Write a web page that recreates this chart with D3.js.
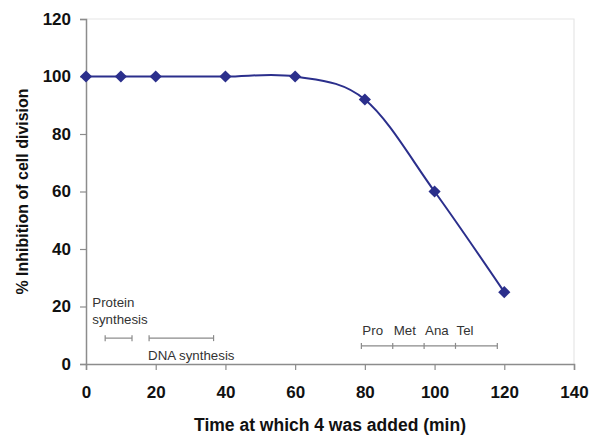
<!DOCTYPE html>
<html>
<head>
<meta charset="utf-8">
<script src="https://cdn.jsdelivr.net/npm/d3@7"></script>
<style>
  body { margin: 0; background: #fff; }
  svg { display: block; font-family: "Liberation Sans", Arial, sans-serif; }
</style>
</head>
<body>
<div id="chart"></div>
<script>
// data
var times = [0, 10, 20, 40, 60, 80, 100, 120];
var inhibition = [100, 100, 100, 100, 100, 92, 60, 25];

var xTicks = [0, 20, 40, 60, 80, 100, 120, 140];
var yTicks = [0, 20, 40, 60, 80, 100, 120];

// annotation ranges (min)
var proteinRange = [5.5, 13.2];
var dnaRange = [18.1, 36.6];
var phaseNames = ["Pro", "Met", "Ana", "Tel"];
var phaseBounds = [79, 88, 97, 106, 118];

var width = 590,
    height = 435;

var margin = { top: 19, right: 16, bottom: 71, left: 86 };

var svg = d3.select("#chart")
    .append("svg")
    .attr("width", width)
    .attr("height", height);

var x = d3.scaleLinear().domain([0, 140]).range([margin.left, width - margin.right]);
var y = d3.scaleLinear().domain([0, 120]).range([height - margin.bottom, margin.top]);

var blue = "#2b2f8c",
    axisColor = "#8c8c8c";

// light plot frame (top, right)
svg.append("path")
    .attr("d", "M" + x(0) + "," + y(120) + "H" + x(140) + "V" + y(0))
    .attr("fill", "none")
    .attr("stroke", "#e6e6e6")
    .attr("stroke-width", 1.2);

var xAxis = svg.append("g")
    .attr("transform", "translate(0," + y(0) + ")")
    .call(d3.axisBottom(x).tickValues(xTicks).tickSize(6).tickPadding(16));

var yAxis = svg.append("g")
    .attr("transform", "translate(" + x(0) + ",0)")
    .call(d3.axisLeft(y).tickValues(yTicks).tickSize(6).tickPadding(9));

[xAxis, yAxis].forEach(function (g) {
    g.select(".domain").attr("stroke", axisColor).attr("stroke-width", 1.5);
    g.selectAll(".tick line").attr("stroke", axisColor).attr("stroke-width", 1.2);
    g.selectAll(".tick text")
        .attr("fill", "#111")
        .style("font-size", "17px")
        .style("font-weight", "bold");
});

// axis titles
svg.append("text")
    .attr("x", (x(0) + x(140)) / 2)
    .attr("y", 431)
    .attr("text-anchor", "middle")
    .style("font-size", "17.5px")
    .style("font-weight", "bold")
    .attr("fill", "#111")
    .text("Time at which 4 was added (min)");

svg.append("text")
    .attr("transform", "translate(28," + ((y(0) + y(120)) / 2) + ") rotate(-90)")
    .attr("text-anchor", "middle")
    .style("font-size", "16px")
    .style("font-weight", "bold")
    .attr("fill", "#111")
    .text("% Inhibition of cell division");

// annotations
var annColor = "#8a8a8a",
    textColor = "#333";

function rangeBar(x0, x1, yv) {
    var g = svg.append("g").attr("stroke", annColor).attr("stroke-width", 1.2);
    g.append("line").attr("x1", x(x0)).attr("x2", x(x1)).attr("y1", y(yv)).attr("y2", y(yv));
    [x0, x1].forEach(function (v) {
        g.append("line").attr("x1", x(v)).attr("x2", x(v)).attr("y1", y(yv) - 3).attr("y2", y(yv) + 3);
    });
    return g;
}

rangeBar(proteinRange[0], proteinRange[1], 9);
rangeBar(dnaRange[0], dnaRange[1], 9);

var ann = svg.append("g")
    .attr("fill", textColor)
    .style("font-size", "13.3px");

ann.append("text").attr("x", x(1.8)).attr("y", y(19.8)).text("Protein");
ann.append("text").attr("x", x(1.8)).attr("y", y(13.9)).text("synthesis");
ann.append("text").attr("x", x(17.8)).attr("y", y(1.4)).text("DNA synthesis");

var phaseBar = rangeBar(phaseBounds[0], phaseBounds[phaseBounds.length - 1], 6.3);
phaseBounds.slice(1, -1).forEach(function (v) {
    phaseBar.append("line").attr("x1", x(v)).attr("x2", x(v)).attr("y1", y(6.3) - 3).attr("y2", y(6.3) + 3);
});

ann.selectAll(".phase")
    .data(phaseNames)
    .enter().append("text")
    .attr("class", "phase")
    .attr("x", function (d, i) { return x(phaseBounds[i]) + 1; })
    .attr("y", y(10))
    .text(function (d) { return d; });

// smoothed line
var pts = times.map(function (t, i) { return [t, inhibition[i]]; });

var line = d3.line()
    .x(function (d) { return x(d[0]); })
    .y(function (d) { return y(d[1]); })
    .curve(d3.curveCatmullRom.alpha(0));

svg.append("path")
    .datum(pts)
    .attr("d", line)
    .attr("fill", "none")
    .attr("stroke", blue)
    .attr("stroke-width", 2);

// square turned 45 degrees = Excel diamond marker
var diamond = d3.symbol().type(d3.symbolSquare).size(74);

svg.selectAll(".marker")
    .data(pts)
    .enter().append("path")
    .attr("class", "marker")
    .attr("transform", function (d) { return "translate(" + x(d[0]) + "," + y(d[1]) + ") rotate(45)"; })
    .attr("d", diamond)
    .attr("fill", blue);
</script>
</body>
</html>
